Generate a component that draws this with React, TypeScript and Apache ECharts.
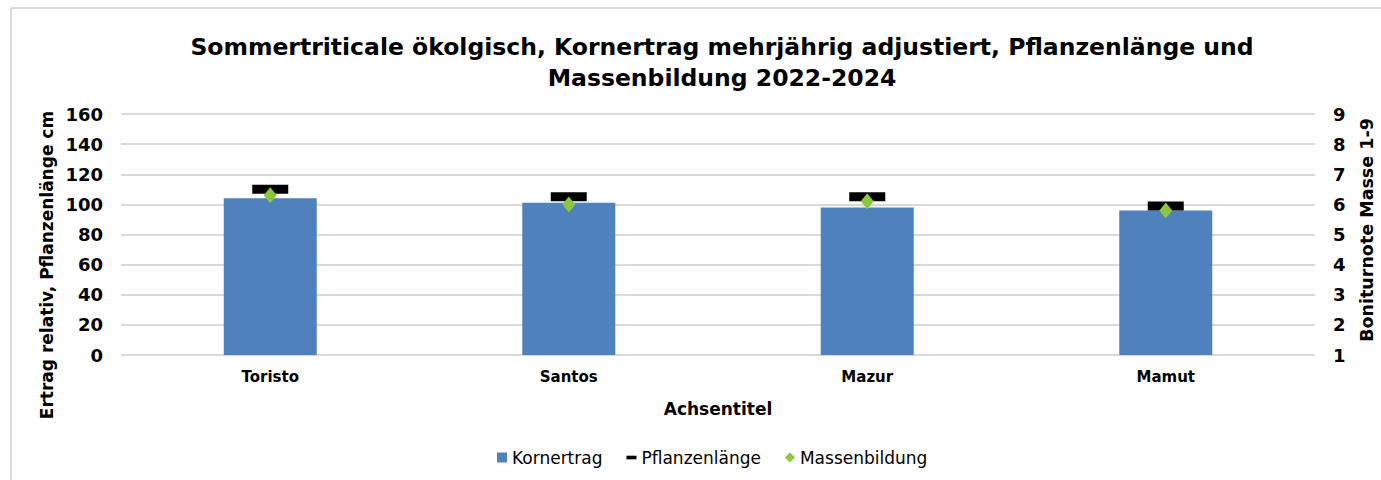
import React, { useEffect, useRef } from "react";
import * as echarts from "echarts";

const categories = ["Toristo", "Santos", "Mazur", "Mamut"];
const kornertrag = [104, 101, 98, 96];
const pflanzenlaenge = [110, 105, 105, 99];
const massenbildung = [6.3, 6.0, 6.1, 5.8];
const leftTicks = [0, 20, 40, 60, 80, 100, 120, 140, 160];
const rightTicks = [1, 2, 3, 4, 5, 6, 7, 8, 9];

const FONT = "'DejaVu Sans', 'Liberation Sans', Arial, sans-serif";

export default function App() {
  const ref = useRef<HTMLDivElement>(null);
  useEffect(() => {
    if (!ref.current) return;
    const chart = echarts.init(ref.current, undefined, { renderer: "svg" });
    chart.setOption({
      animation: false,
      backgroundColor: "#ffffff",
      textStyle: { fontFamily: FONT },
      title: {
        text: "Sommertriticale ökolgisch, Kornertrag mehrjährig adjustiert, Pflanzenlänge und\nMassenbildung 2022-2024",
        left: 717,
        textAlign: "center",
        top: 26,
        textStyle: { fontSize: 23.5, fontWeight: "bold", color: "#000", lineHeight: 31, fontFamily: FONT },
      },
      legend: {
        bottom: 9,
        left: 492,
        itemGap: 24,
        itemWidth: 10,
        itemHeight: 10,
        textStyle: { fontSize: 17, color: "#000", fontFamily: FONT, fontWeight: "normal" },
        data: [
          { name: "Kornertrag", icon: "rect", itemStyle: { color: "#4f81bd" } },
          { name: "Pflanzenlänge", icon: "path://M0,0 L11,0 L11,4 L0,4 Z", itemStyle: { color: "#000" } },
          { name: "Massenbildung", icon: "diamond", itemStyle: { color: "#8cc63f" } },
        ],
      },
      grid: { left: 121, right: 66, top: 114, bottom: 125, containLabel: false },
      xAxis: {
        type: "category",
        data: categories,
        axisLine: { show: false },
        axisTick: { show: false },
        axisLabel: { fontSize: 15, fontWeight: "bold", color: "#000", margin: 14, fontFamily: FONT },
        name: "Achsentitel",
        nameLocation: "middle",
        nameGap: 45,
        nameTextStyle: { fontSize: 17, fontWeight: "bold", color: "#000", fontFamily: FONT },
      },
      yAxis: [
        {
          type: "value",
          min: leftTicks[0],
          max: leftTicks[leftTicks.length - 1],
          interval: 20,
          axisLine: { show: false },
          axisTick: { show: false },
          axisLabel: { fontSize: 18, fontWeight: "bold", color: "#000", margin: 18, fontFamily: FONT },
          splitLine: { lineStyle: { color: "#d9d9d9", width: 2 } },
        },
        {
          type: "value",
          min: rightTicks[0],
          max: rightTicks[rightTicks.length - 1],
          interval: 1,
          axisLine: { show: false },
          axisTick: { show: false },
          axisLabel: { fontSize: 18, fontWeight: "bold", color: "#000", margin: 18, fontFamily: FONT },
          splitLine: { show: false },
        },
      ],
      series: [
        {
          name: "Kornertrag",
          type: "bar",
          data: kornertrag,
          barWidth: 93,
          itemStyle: { color: "#4f81bd" },
          yAxisIndex: 0,
        },
        {
          name: "Pflanzenlänge",
          type: "scatter",
          data: pflanzenlaenge,
          symbol: "rect",
          symbolSize: [36, 9],
          itemStyle: { color: "#000", opacity: 1 },
          yAxisIndex: 0,
        },
        {
          name: "Massenbildung",
          type: "scatter",
          data: massenbildung,
          symbol: "diamond",
          symbolSize: [13, 16],
          itemStyle: { color: "#8cc63f", opacity: 1 },
          yAxisIndex: 1,
        },
      ],
      graphic: [
        { type: "line", shape: { x1: 11, y1: 8, x2: 11, y2: 480 }, style: { stroke: "#d9d9d9", lineWidth: 2 } },
        { type: "line", shape: { x1: 11, y1: 8, x2: 1381, y2: 8 }, style: { stroke: "#d9d9d9", lineWidth: 2 } },
        {
          type: "text",
          x: 47,
          y: 265,
          rotation: Math.PI / 2,
          style: {
            text: "Ertrag relativ, Pflanzenlänge cm",
            fontSize: 17,
            fontWeight: "bold",
            fill: "#000",
            fontFamily: FONT,
            align: "center",
            verticalAlign: "middle",
          },
        },
        {
          type: "text",
          x: 1367,
          y: 230,
          rotation: Math.PI / 2,
          style: {
            text: "Boniturnote Masse 1-9",
            fontSize: 17.5,
            fontWeight: "bold",
            fill: "#000",
            fontFamily: FONT,
            align: "center",
            verticalAlign: "middle",
          },
        },
      ],
    });
    return () => chart.dispose();
  }, []);
  return (
    <div
      ref={ref}
      style={{ position: "fixed", left: 0, top: 0, width: 1381, height: 480 }}
    />
  );
}
